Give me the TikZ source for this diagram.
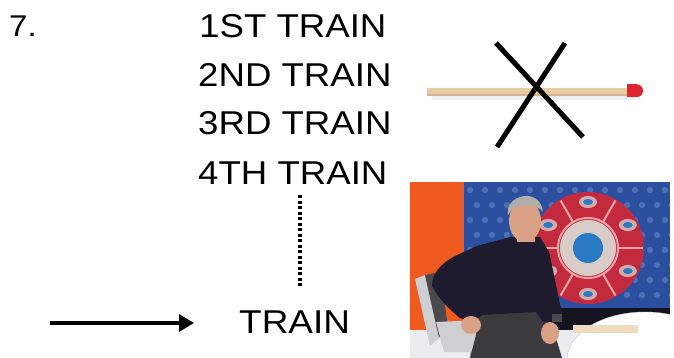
\documentclass[tikz,border=0pt]{standalone}
\usepackage{fontspec}
\setmainfont{Liberation Sans}
\usetikzlibrary{arrows.meta,calc}
\definecolor{wood}{HTML}{E9CBA3}
\definecolor{woodshade}{HTML}{D4B48E}
\definecolor{matchred}{HTML}{E0242E}
\definecolor{studioorange}{HTML}{EE5A1F}
\definecolor{studioblue}{HTML}{2B4F9E}
\definecolor{dotblue}{HTML}{6F8FC8}
\definecolor{ballred}{HTML}{C42A3E}
\definecolor{ballpink}{HTML}{E9A3A3}
\definecolor{ballinner}{HTML}{D8CCC8}
\definecolor{ballblue}{HTML}{2A7BC4}
\definecolor{shirt}{HTML}{1F1B2E}
\definecolor{pants}{HTML}{3B3A3C}
\definecolor{skin}{HTML}{D9A287}
\definecolor{hair}{HTML}{B0AEA8}
\definecolor{chairgray}{HTML}{CFCFD2}
\definecolor{chairdark}{HTML}{4A4A4E}
\definecolor{floorgray}{HTML}{ECECEE}
\tikzset{
  bigtext/.style={anchor=base west, inner sep=0pt, font=\fontsize{33}{33}\selectfont},
  numtext/.style={anchor=base west, inner sep=0pt, font=\fontsize{30}{30}\selectfont},
  crossline/.style={line width=5pt, black},
  dotline/.style={line width=4pt, dash pattern=on 3pt off 2.5pt},
  arrowline/.style={line width=3.5pt, -{Triangle[length=15pt,width=17pt]}}
}
\begin{document}
\begin{tikzpicture}[x=1pt,y=-1pt]
\useasboundingbox (0,0) rectangle (674,358);
\fill[white] (0,0) rectangle (674,358);
% texts
\node[numtext] (num) at (9,37) {\scalebox{1.1}[1]{7.}};
\node[bigtext] (t1) at (199,38) {\scalebox{1.11}[1]{1ST TRAIN}};
\node[bigtext] (t2) at (198,87) {\scalebox{1.11}[1]{2ND TRAIN}};
\node[bigtext] (t3) at (198,135) {\scalebox{1.11}[1]{3RD TRAIN}};
\node[bigtext] (t4) at (198,185) {\scalebox{1.11}[1]{4TH TRAIN}};
\node[bigtext] (tn) at (239,333) {\scalebox{1.12}[1]{TRAIN}};
% dotted continuation
\coordinate (d1) at (300,195);
\coordinate (d2) at (300,287);
\draw[dotline] (d1) -- (d2);
% arrow
\coordinate (a1) at (50,323);
\coordinate (a2) at (194,323);
\draw[arrowline] (a1) -- (a2);
% match
\fill[gray!12] (432,96) rectangle (640,100);
\fill[wood] (427,88) rectangle (632,96.5);
\fill[woodshade] (427,94.5) rectangle (632,96.5);
\fill[matchred] (627,84.5) rectangle (637,97) ;
\fill[matchred] (637,90.7) ellipse (6pt and 6.3pt);
% cross
\coordinate (c1) at (496,43);
\coordinate (c2) at (583,137);
\coordinate (c3) at (565,43);
\coordinate (c4) at (497,147);
\draw[crossline] (c1) -- (c2);
\draw[crossline] (c3) -- (c4);
% photo
\begin{scope}
\clip (410,182) rectangle (670,358);
\fill[floorgray] (410,182) rectangle (670,358);
\fill[studioorange] (410,182) rectangle (464,330);
\fill[studioblue] (464,182) rectangle (670,308);
\foreach \i in {0,...,13}{
  \foreach \j in {0,...,7}{
    \pgfmathsetmacro{\dx}{470+\i*15+mod(\j,2)*7}
    \pgfmathsetmacro{\dy}{190+\j*15}
    \fill[dotblue,opacity=0.5] (\dx,\dy) circle (3.2pt);
  }
}
% ball
\coordinate (bc) at (588,248);
\fill[ballred] (bc) circle (56pt);
\draw[ballpink,line width=2pt] (bc) circle (30pt);
\foreach \a in {0,60,...,300}{
  \draw[ballpink,line width=2pt] ($(bc)+(\a:30)$) -- ($(bc)+(\a:55)$);
  \fill[ballinner,opacity=0.8] ($(bc)+(\a+30:46)$) ellipse (9pt and 6pt);
  \fill[ballblue] ($(bc)+(\a+30:46)$) ellipse (5pt and 3pt);
}
\fill[ballinner] (bc) circle (28pt);
\fill[ballblue] (bc) circle (15pt);
% dark rear desk area
\fill[shirt!70!black] (540,308) rectangle (670,330);
% table
\fill[white] (645,360) ellipse (78pt and 48pt);
\draw[gray!40] (645,360) ellipse (78pt and 48pt);
\fill[wood!70] (573,325) rectangle (638,333);
% chair
\fill[chairgray] (415,279) -- (425,275) -- (439,338) -- (430,346) -- cycle;
\fill[chairdark] (425,275) -- (440,272) -- (447,320) -- (439,338) -- cycle;
\fill[chairgray] (436,322) -- (480,320) -- (497,352) -- (444,352) -- cycle;
\fill[gray!60] (470,352) rectangle (490,358);
% man
\fill[pants] (478,312) -- (540,311) -- (556,338) -- (562,358) -- (470,358) -- (476,335) -- cycle;
\fill[shirt] (510,237) -- (540,237) -- (549,252)
  .. controls (553,270) and (558,295) .. (563,318)
  -- (543,322) -- (536,312) -- (482,315) -- (472,322) -- (460,318)
  .. controls (450,310) and (438,298) .. (432,286)
  .. controls (432,274) and (440,264) .. (455,256)
  -- (477,246) -- cycle;
\fill[skin] (517,225) rectangle (535,242);
\fill[skin] (525,221) ellipse (16pt and 21pt);
\fill[hair] (508,215) .. controls (504,195) and (540,186) .. (543,212)
  .. controls (538,203) and (514,202) .. (508,215) -- cycle;
\fill[chairdark] (552,314) rectangle (562,322);
\fill[skin] (471,325) ellipse (10pt and 9pt);
\fill[skin] (550,333) ellipse (9pt and 11pt);
\end{scope}
\end{tikzpicture}
\end{document}
